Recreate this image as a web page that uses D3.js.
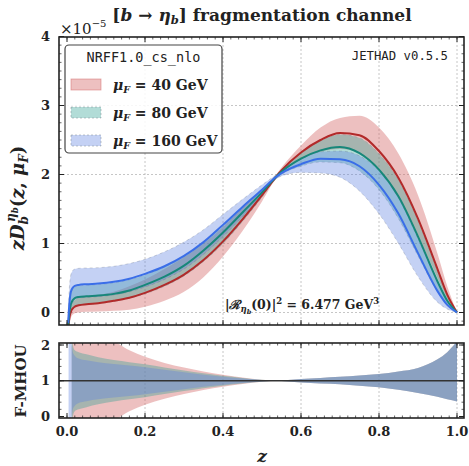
<!DOCTYPE html>
<html>
<head>
<meta charset="utf-8">
<script src="https://cdn.jsdelivr.net/npm/d3@7"></script>
<style>
  html, body { margin: 0; padding: 0; background: #fff; }
  svg { display: block; }
</style>
</head>
<body>
<svg id="chart" width="469" height="466"></svg>
<script>
// ---- momentum fraction grid ----
const zGrid = [0.003, 0.006, 0.01, 0.015, 0.02, 0.03, 0.05, 0.08, 0.12, 0.16, 0.2, 0.25, 0.3, 0.35, 0.4, 0.45, 0.5, 0.535, 0.55, 0.6, 0.65, 0.7, 0.75, 0.8, 0.85, 0.9, 0.95, 0.975, 1.0];

// ---- z D(z, mu_F) in units of 1e-5 ----
const central40  = [-0.25, -0.08, 0.01, 0.06, 0.085, 0.105, 0.12, 0.135, 0.17, 0.215, 0.285, 0.40, 0.55, 0.76, 1.03, 1.35, 1.70, 1.96, 2.06, 2.32, 2.50, 2.60, 2.57, 2.34, 1.95, 1.36, 0.63, 0.26, 0.0];
const low40      = [-0.40, -0.20, -0.08, -0.03, -0.01, 0.0, 0.01, 0.015, 0.025, 0.04, 0.085, 0.17, 0.30, 0.51, 0.81, 1.18, 1.61, 1.93, 2.02, 2.22, 2.33, 2.37, 2.31, 2.06, 1.68, 1.12, 0.50, 0.20, 0.0];
const high40     = [-0.10, 0.04, 0.10, 0.15, 0.18, 0.21, 0.23, 0.255, 0.30, 0.38, 0.48, 0.63, 0.80, 1.00, 1.24, 1.52, 1.79, 1.99, 2.10, 2.42, 2.68, 2.82, 2.85, 2.68, 2.30, 1.70, 0.85, 0.38, 0.0];

const central80  = [-0.20, 0.0, 0.12, 0.18, 0.21, 0.225, 0.235, 0.245, 0.27, 0.32, 0.40, 0.52, 0.68, 0.90, 1.16, 1.45, 1.74, 1.96, 2.04, 2.23, 2.35, 2.40, 2.31, 2.07, 1.68, 1.10, 0.45, 0.17, 0.0];
const low80      = [-0.35, -0.12, 0.0, 0.06, 0.085, 0.10, 0.115, 0.13, 0.16, 0.205, 0.27, 0.38, 0.53, 0.74, 1.00, 1.32, 1.67, 1.93, 2.00, 2.12, 2.18, 2.17, 2.05, 1.78, 1.36, 0.82, 0.30, 0.11, 0.0];
const high80     = [-0.05, 0.15, 0.28, 0.34, 0.37, 0.385, 0.395, 0.405, 0.43, 0.475, 0.545, 0.66, 0.81, 1.01, 1.25, 1.51, 1.78, 1.98, 2.07, 2.31, 2.49, 2.58, 2.53, 2.30, 1.92, 1.33, 0.60, 0.24, 0.0];

const central160 = [-0.15, 0.12, 0.30, 0.36, 0.385, 0.40, 0.41, 0.42, 0.445, 0.49, 0.56, 0.67, 0.82, 1.02, 1.27, 1.53, 1.78, 1.96, 2.02, 2.15, 2.23, 2.22, 2.12, 1.85, 1.43, 0.86, 0.31, 0.11, 0.0];
const low160     = [-0.30, -0.10, 0.08, 0.15, 0.19, 0.21, 0.22, 0.23, 0.255, 0.30, 0.37, 0.48, 0.63, 0.84, 1.10, 1.39, 1.70, 1.93, 1.98, 2.03, 2.02, 1.96, 1.76, 1.43, 1.00, 0.52, 0.15, 0.05, 0.0];
const high160    = [0.0, 0.35, 0.55, 0.61, 0.63, 0.64, 0.645, 0.65, 0.67, 0.71, 0.77, 0.88, 1.02, 1.20, 1.42, 1.64, 1.85, 1.99, 2.05, 2.22, 2.33, 2.34, 2.27, 2.05, 1.66, 1.07, 0.45, 0.18, 0.0];

// ---- F-MHOU ratio bands ----
const rGrid = [0.004, 0.008, 0.012, 0.015, 0.02, 0.03, 0.05, 0.08, 0.12, 0.16, 0.2, 0.25, 0.3, 0.35, 0.4, 0.45, 0.5, 0.535, 0.55, 0.6, 0.65, 0.7, 0.75, 0.8, 0.85, 0.9, 0.95, 0.975, 1.0];
const ratioLow40   = [null, null, -0.3, -0.3, -0.3, -0.3, -0.3, -0.2, -0.1, 0.15, 0.33, 0.50, 0.63, 0.74, 0.83, 0.91, 0.97, 1.0, 0.995, 0.95, 0.92, 0.90, 0.86, 0.82, 0.75, 0.66, 0.55, 0.48, 0.42];
const ratioHigh40  = [null, null, 2.3, 2.3, 2.3, 2.3, 2.3, 2.2, 2.1, 1.85, 1.67, 1.50, 1.37, 1.26, 1.17, 1.09, 1.03, 1.0, 1.005, 1.05, 1.08, 1.11, 1.15, 1.19, 1.26, 1.36, 1.60, 1.80, 2.10];
const ratioLow80   = [null, null, -0.3, 0.0, 0.15, 0.20, 0.26, 0.34, 0.42, 0.48, 0.54, 0.63, 0.71, 0.79, 0.86, 0.92, 0.97, 1.0, 0.995, 0.95, 0.92, 0.90, 0.86, 0.82, 0.75, 0.66, 0.55, 0.48, 0.42];
const ratioHigh80  = [null, null, 2.3, 2.0, 1.85, 1.80, 1.74, 1.66, 1.58, 1.52, 1.46, 1.37, 1.29, 1.21, 1.14, 1.08, 1.03, 1.0, 1.005, 1.05, 1.08, 1.11, 1.15, 1.19, 1.26, 1.36, 1.60, 1.80, 2.10];
const ratioLow160  = [-0.3, -0.3, 0.0, 0.20, 0.30, 0.38, 0.43, 0.48, 0.53, 0.57, 0.62, 0.69, 0.76, 0.83, 0.89, 0.94, 0.98, 1.0, 0.995, 0.95, 0.92, 0.90, 0.86, 0.82, 0.75, 0.66, 0.55, 0.48, 0.42];
const ratioHigh160 = [2.3, 2.3, 2.0, 1.80, 1.70, 1.62, 1.57, 1.52, 1.47, 1.43, 1.38, 1.31, 1.24, 1.17, 1.11, 1.06, 1.02, 1.0, 1.005, 1.05, 1.08, 1.11, 1.15, 1.19, 1.26, 1.36, 1.60, 1.80, 2.10];

// ---- labels ----
const scaleLabels = ["40", "80", "160"];
const xTicks = [0.0, 0.2, 0.4, 0.6, 0.8, 1.0];
const yTicksMain = [0, 1, 2, 3, 4];
const yTicksRatio = [0, 1, 2];

// ---- styling ----
const bandFill   = ["#d46a6a", "#2a9d8f", "#5b7fe0"];
const bandAlpha  = [0.42, 0.36, 0.36];
const lineColor  = ["#b22a2a", "#17877a", "#3a6ee8"];
const serif = "'DejaVu Serif', serif";
const mono = "'DejaVu Sans Mono', monospace";

const svg = d3.select("#chart");

const M = { left: 59, right: 464, top: 37, bottom: 325 };
const R = { top: 343, bottom: 418 };

const x = d3.scaleLinear().domain([0, 1]).range([67, 457]);
const xLeft = x.invert(M.left), xRight = x.invert(M.right);
const y = d3.scaleLinear().domain([0, 1]).range([312.5, 243.5]);
const yr = d3.scaleLinear().domain([0, 2]).range([416.5, 345]);

const defs = svg.append("defs");
defs.append("clipPath").attr("id", "clipMain").append("rect")
  .attr("x", M.left).attr("y", M.top).attr("width", M.right - M.left).attr("height", M.bottom - M.top);
defs.append("clipPath").attr("id", "clipRatio").append("rect")
  .attr("x", M.left).attr("y", R.top).attr("width", M.right - M.left).attr("height", R.bottom - R.top);

// ---- grids ----
function grid(g, yScale, yVals, top, bottom) {
  g.selectAll(".gx").data(xTicks.filter(t => t > 0)).enter().append("line")
    .attr("x1", d => x(d)).attr("x2", d => x(d)).attr("y1", top).attr("y2", bottom)
    .attr("stroke", "#b8b8b8").attr("stroke-width", 0.8).attr("stroke-dasharray", "2,2");
  g.selectAll(".gy").data(yVals).enter().append("line")
    .attr("x1", M.left).attr("x2", M.right).attr("y1", d => yScale(d)).attr("y2", d => yScale(d))
    .attr("stroke", "#b8b8b8").attr("stroke-width", 0.8).attr("stroke-dasharray", "2,2");
}
grid(svg.append("g"), y, [0, 1, 2, 3], M.top, M.bottom);
grid(svg.append("g"), yr, [], R.top, R.bottom);

// ---- main panel ----
const main = svg.append("g").attr("clip-path", "url(#clipMain)");
const series = [
  { c: central40, lo: low40, hi: high40 },
  { c: central80, lo: low80, hi: high80 },
  { c: central160, lo: low160, hi: high160 }
];
const area = d3.area().x(d => x(d.z)).y0(d => y(d.lo)).y1(d => y(d.hi)).curve(d3.curveMonotoneX);
const line = d3.line().x(d => x(d.z)).y(d => y(d.v)).curve(d3.curveMonotoneX);
const edgeLo = d3.line().x(d => x(d.z)).y(d => y(d.lo)).curve(d3.curveMonotoneX);
const edgeHi = d3.line().x(d => x(d.z)).y(d => y(d.hi)).curve(d3.curveMonotoneX);

series.forEach((s, i) => {
  const pts = zGrid.map((z, k) => ({ z, lo: s.lo[k], hi: s.hi[k] }));
  main.append("path").attr("d", area(pts)).attr("fill", bandFill[i]).attr("fill-opacity", bandAlpha[i]);
  if (i > 0) {
    [edgeLo, edgeHi].forEach(e => main.append("path").attr("d", e(pts)).attr("fill", "none")
      .attr("stroke", "#5a6470").attr("stroke-opacity", 0.35).attr("stroke-width", 0.7).attr("stroke-dasharray", "3,3"));
  }
});
series.forEach((s, i) => {
  const pts = zGrid.map((z, k) => ({ z, v: s.c[k] }));
  main.append("path").attr("d", line(pts)).attr("fill", "none")
    .attr("stroke", lineColor[i]).attr("stroke-width", 2);
});

// ---- ratio panel ----
const ratio = svg.append("g").attr("clip-path", "url(#clipRatio)");
const ratioBands = [
  { lo: ratioLow40, hi: ratioHigh40 },
  { lo: ratioLow80, hi: ratioHigh80 },
  { lo: ratioLow160, hi: ratioHigh160 }
];
const rArea = d3.area().defined(d => d.lo != null).x(d => x(d.z)).y0(d => yr(d.lo)).y1(d => yr(d.hi)).curve(d3.curveMonotoneX);
ratioBands.forEach((b, i) => {
  const pts = rGrid.map((z, k) => ({ z, lo: b.lo[k], hi: b.hi[k] }));
  ratio.append("path").attr("d", rArea(pts)).attr("fill", bandFill[i]).attr("fill-opacity", bandAlpha[i]);
});
ratio.append("line").attr("x1", M.left).attr("x2", M.right).attr("y1", yr(1)).attr("y2", yr(1))
  .attr("stroke", "#333").attr("stroke-width", 1.6);

// ---- frames and ticks ----
function frame(top, bottom, yScale, yMajor, yMinorStep, yDom) {
  const g = svg.append("g");
  const xMinor = d3.range(0, 1.0001, 0.02).filter(v => v >= xLeft && v <= xRight);
  const yMinor = d3.range(Math.ceil(yDom[0] / yMinorStep) * yMinorStep, yDom[1] + 1e-9, yMinorStep);
  const tick = (x1, y1, x2, y2, w) => g.append("line").attr("x1", x1).attr("y1", y1).attr("x2", x2).attr("y2", y2)
    .attr("stroke", "#222").attr("stroke-width", w);
  xMinor.forEach(v => { tick(x(v), bottom, x(v), bottom - 2.5, 0.7); tick(x(v), top, x(v), top + 2.5, 0.7); });
  xTicks.forEach(v => { tick(x(v), bottom, x(v), bottom - 5, 1); tick(x(v), top, x(v), top + 5, 1); });
  yMinor.forEach(v => { const p = yScale(v); if (p > top && p < bottom) { tick(M.left, p, M.left + 2.5, p, 0.7); tick(M.right, p, M.right - 2.5, p, 0.7); } });
  yMajor.forEach(v => { const p = yScale(v); tick(M.left, p, M.left + 5, p, 1); tick(M.right, p, M.right - 5, p, 1); });
  g.append("rect").attr("x", M.left).attr("y", top).attr("width", M.right - M.left).attr("height", bottom - top)
    .attr("fill", "none").attr("stroke", "#222").attr("stroke-width", 1.6);
}
frame(M.top, M.bottom, y, yTicksMain, 0.125, [-0.2, 4]);
frame(R.top, R.bottom, yr, yTicksRatio, 0.2, [0, 2]);

// ---- tick labels ----
const txt = svg.append("g").attr("font-family", serif).attr("font-weight", "bold").attr("fill", "#222");
yTicksMain.forEach(v => txt.append("text").attr("x", 50).attr("y", y(v) + 4.5).attr("text-anchor", "end")
  .attr("font-size", 13).text(v));
yTicksRatio.forEach(v => txt.append("text").attr("x", 50).attr("y", yr(v) + 4.5).attr("text-anchor", "end")
  .attr("font-size", 13).text(v));
xTicks.forEach(v => txt.append("text").attr("x", x(v)).attr("y", 436).attr("text-anchor", "middle")
  .attr("font-size", 13).text(d3.format(".1f")(v)));

// ---- axis titles ----
txt.append("text").attr("x", 262).attr("y", 462).attr("text-anchor", "middle").attr("font-size", 17)
  .attr("font-style", "italic").text("z");

const yl = txt.append("text").attr("transform", "translate(24,198) rotate(-90)").attr("text-anchor", "middle")
  .attr("font-size", 18);
yl.append("tspan").attr("font-style", "italic").text("zD");
yl.append("tspan").attr("font-style", "italic").attr("font-size", 12).attr("dy", 4).text("b");
yl.append("tspan").attr("font-style", "italic").attr("font-size", 12).attr("dx", -6).attr("dy", -13).text("η");
yl.append("tspan").attr("font-style", "italic").attr("font-size", 8.5).attr("dy", 3).text("b");
yl.append("tspan").attr("dy", 6).text("(");
yl.append("tspan").attr("font-style", "italic").text("z");
yl.append("tspan").text(", ");
yl.append("tspan").attr("font-style", "italic").text("μ");
yl.append("tspan").attr("font-style", "italic").attr("font-size", 12).attr("dy", 4).text("F");
yl.append("tspan").attr("dy", -4).text(")");

txt.append("text").attr("transform", "translate(26,381) rotate(-90)").attr("text-anchor", "middle")
  .attr("font-size", 15).text("F-MHOU");

// ---- title ----
const title = txt.append("text").attr("x", 262).attr("y", 21).attr("text-anchor", "middle").attr("font-size", 17);
title.append("tspan").text("[");
title.append("tspan").attr("font-style", "italic").text("b");
title.append("tspan").text(" → ");
title.append("tspan").attr("font-style", "italic").text("η");
title.append("tspan").attr("font-style", "italic").attr("font-size", 11.5).attr("dy", 3).text("b");
title.append("tspan").attr("dy", -3).text("] fragmentation channel");

const mult = svg.append("text").attr("x", 60).attr("y", 34).attr("font-family", serif).attr("font-size", 15).attr("fill", "#222");
mult.append("tspan").text("×10");
mult.append("tspan").attr("font-size", 10).attr("dy", -7).text("−5");

// ---- annotations ----
svg.append("text").attr("x", 448).attr("y", 60).attr("text-anchor", "end").attr("font-family", mono)
  .attr("font-size", 12.3).attr("fill", "#222").text("JETHAD v0.5.5");

const rl = txt.append("text").attr("x", 302).attr("y", 309).attr("text-anchor", "middle").attr("font-size", 12.5);
rl.append("tspan").text("|");
rl.append("tspan").attr("font-style", "italic").text("ℛ");
rl.append("tspan").attr("font-style", "italic").attr("font-size", 8.5).attr("dy", 3).text("η");
rl.append("tspan").attr("font-style", "italic").attr("font-size", 6.5).attr("dy", 2).text("b");
rl.append("tspan").attr("dy", -5).text("(0)|");
rl.append("tspan").attr("font-size", 8.5).attr("dy", -5).text("2");
rl.append("tspan").attr("dy", 5).text(" = 6.477 GeV");
rl.append("tspan").attr("font-size", 8.5).attr("dy", -5).text("3");

// ---- legend ----
const lg = svg.append("g");
lg.append("rect").attr("x", 65).attr("y", 45).attr("width", 157).attr("height", 108).attr("rx", 4)
  .attr("fill", "#fff").attr("fill-opacity", 0.85).attr("stroke", "#444").attr("stroke-width", 1.2);
lg.append("text").attr("x", 143.5).attr("y", 62).attr("text-anchor", "middle").attr("font-family", mono)
  .attr("font-size", 13.5).attr("fill", "#222").text("NRFF1.0_cs_nlo");
scaleLabels.forEach((lab, i) => {
  const yy = 79 + i * 28;
  lg.append("rect").attr("x", 71).attr("y", yy).attr("width", 30).attr("height", 11)
    .attr("fill", bandFill[i]).attr("fill-opacity", bandAlpha[i])
    .attr("stroke", i === 0 ? bandFill[0] : "#7a8a90").attr("stroke-opacity", 0.6).attr("stroke-width", 0.8)
    .attr("stroke-dasharray", i === 0 ? null : "2,2");
  const t = lg.append("text").attr("x", 113).attr("y", yy + 11).attr("font-family", serif).attr("font-weight", "bold")
    .attr("font-size", 14).attr("fill", "#222");
  t.append("tspan").attr("font-style", "italic").text("μ");
  t.append("tspan").attr("font-style", "italic").attr("font-size", 9.5).attr("dy", 3).text("F");
  t.append("tspan").attr("dy", -3).text(" = " + lab + " GeV");
});
</script>
</body>
</html>
